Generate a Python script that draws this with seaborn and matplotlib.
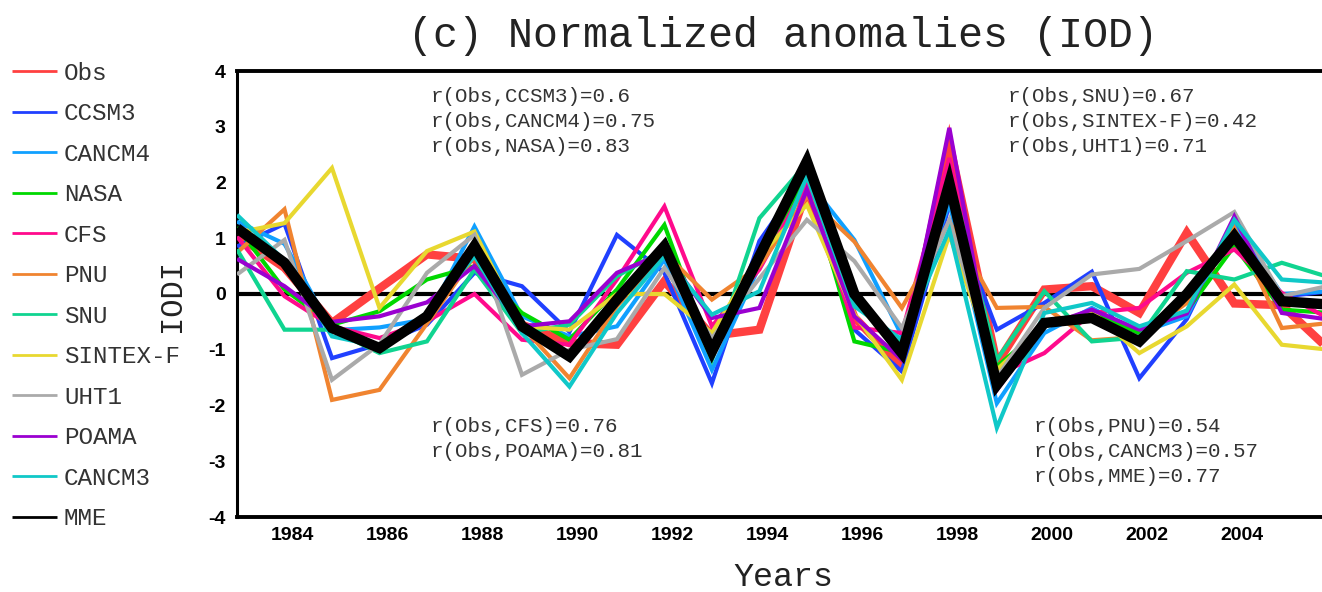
import numpy as np
import pandas as pd
import matplotlib
matplotlib.use("Agg")
import matplotlib.pyplot as plt
import seaborn as sns
from matplotlib import font_manager

# ---------------- data ----------------
years = list(range(1982, 2006))

obs     = [1.05, 0.47, -0.52, 0.10, 0.71, 0.63, -0.55, -0.88, -0.91, 0.23, -0.75, -0.64, 1.87, -0.42, -1.30, 2.70, -1.25, 0.08, 0.14, -0.34, 1.10, -0.17, -0.20, -1.00]
ccsm3   = [0.85, 1.26, -1.15, -0.90, -0.55, 0.38, 0.14, -0.68, 1.06, 0.38, -1.60, 0.95, 2.17, -0.64, -1.39, 1.60, -0.64, -0.16, 0.40, -1.51, -0.45, 1.30, -0.05, 0.05]
cancm4  = [1.30, 0.90, -0.65, -0.60, -0.45, 1.21, -0.40, -0.76, -0.58, 0.62, -1.36, 0.50, 2.05, 0.97, -0.75, 1.63, -1.96, -0.70, -0.25, -0.70, -0.40, 1.25, 0.00, 0.05]
nasa    = [1.20, 0.08, -0.55, -0.31, 0.26, 0.50, -0.34, -0.82, 0.08, 1.24, -1.10, 0.60, 2.10, -0.85, -1.05, 2.17, -1.30, -0.58, -0.35, -0.70, -0.30, 0.86, -0.28, -0.34]
cfs     = [1.03, -0.04, -0.58, -0.79, -0.49, 0.00, -0.82, -0.91, 0.26, 1.57, -0.58, 0.44, 1.99, -0.60, -0.70, 2.44, -1.45, -1.06, -0.34, -0.25, 0.38, 0.80, 0.02, -0.45]
pnu     = [0.74, 1.52, -1.90, -1.72, -0.53, 0.68, -0.58, -1.51, -0.22, 0.74, -0.10, 0.50, 1.75, 0.94, -0.25, 1.30, -0.25, -0.23, -0.83, -0.77, -0.16, 1.18, -0.61, -0.52]
snu     = [0.80, -0.64, -0.64, -1.06, -0.85, 0.44, -0.70, -0.55, 0.32, 0.80, -1.18, 1.36, 2.35, -0.16, -0.90, 2.17, -1.18, 0.05, -0.85, -0.78, 0.41, 0.26, 0.56, 0.30]
sintex  = [1.10, 1.27, 2.26, -0.25, 0.77, 1.12, -0.58, -0.64, 0.00, 0.00, -0.70, 0.68, 1.60, -0.36, -1.54, 1.06, -1.36, -0.55, -0.31, -1.06, -0.58, 0.17, -0.91, -1.00]
uht1    = [0.35, 0.97, -1.54, -0.90, 0.38, 1.06, -1.45, -1.00, -0.81, 0.47, -0.79, 0.28, 1.33, 0.59, -0.61, 1.33, -1.50, -0.25, 0.35, 0.45, 0.95, 1.47, -0.04, 0.15]
poama   = [0.63, 0.14, -0.50, -0.40, -0.15, 0.50, -0.58, -0.49, 0.38, 0.74, -0.43, -0.25, 1.87, -0.40, -1.18, 2.98, -1.72, -0.58, -0.28, -0.64, -0.35, 1.39, -0.34, -0.46]
cancm3  = [1.42, 0.60, -0.76, -0.94, -0.34, 0.68, -0.70, -1.66, -0.34, 0.68, -0.37, 0.05, 2.11, -0.22, -0.82, 1.15, -2.40, -0.34, -0.16, -0.58, -0.30, 1.33, 0.26, 0.20]
mme     = [1.18, 0.56, -0.61, -0.97, -0.40, 0.86, -0.58, -1.12, -0.10, 0.86, -1.03, 0.68, 2.38, 0.00, -1.06, 1.99, -1.63, -0.52, -0.43, -0.85, 0.00, 1.04, -0.13, -0.19]

models = ["Obs", "CCSM3", "CANCM4", "NASA", "CFS", "PNU", "SNU", "SINTEX-F", "UHT1", "POAMA", "CANCM3", "MME"]
series = [obs, ccsm3, cancm4, nasa, cfs, pnu, snu, sintex, uht1, poama, cancm3, mme]
colors = ["#ff4040", "#2040ff", "#10a0ff", "#00d800", "#ff0a8c", "#f08430", "#10d490",
          "#e8d830", "#aaaaaa", "#9a00d0", "#10c8c8", "#000000"]

corr_blocks = [
    ["r(Obs,CCSM3)=0.6", "r(Obs,CANCM4)=0.75", "r(Obs,NASA)=0.83"],
    ["r(Obs,CFS)=0.76", "r(Obs,POAMA)=0.81"],
    ["r(Obs,SNU)=0.67", "r(Obs,SINTEX-F)=0.42", "r(Obs,UHT1)=0.71"],
    ["r(Obs,PNU)=0.54", "r(Obs,CANCM3)=0.57", "r(Obs,MME)=0.77"],
]

xtick_years = list(range(1984, 2005, 2))
yticks = list(range(-4, 5))

# ---------------- style ----------------
sns.set_theme(style="white")
installed = {f.name for f in font_manager.fontManager.ttflist}
mono = "Liberation Mono" if "Liberation Mono" in installed else "DejaVu Sans Mono"
tickfont = "Liberation Sans Narrow" if "Liberation Sans Narrow" in installed else "Liberation Sans"
plt.rcParams["font.family"] = [mono, "DejaVu Sans"]

W, H = 1322, 592
fig = plt.figure(figsize=(W / 100, H / 100), dpi=100)
L, R, T, B = 237, 1322, 71, 517
ax = fig.add_axes([L / W, 1 - B / H, (R - L) / W, (B - T) / H])

# long-form table; point placed in November of each year
month_offset = 10 / 12
df = pd.DataFrame({
    "x": np.tile(np.array(years) + month_offset, len(models)),
    "value": np.concatenate([np.array(s, dtype=float) for s in series]),
    "model": np.repeat(models, len(years)),
})

ax.axhline(0, color="black", lw=3.0, zorder=1)

widths = {"Obs": 6.0, "MME": 7.5}
for i, (m, c) in enumerate(zip(models, colors)):
    sub = df[df["model"] == m]
    sns.lineplot(data=sub, x="x", y="value", color=c, lw=widths.get(m, 3.0),
                 label=m, ax=ax, zorder=2 + i, solid_joinstyle="miter",
                 solid_capstyle="butt")

ax.set_xlim(1982 + month_offset, 2005.68)
ax.set_ylim(-4, 4)
ax.set_xticks(xtick_years)
ax.set_xticklabels([str(y) for y in xtick_years])
ax.set_yticks(yticks)
ax.set_yticklabels([str(v).replace("\u2212", "-") for v in yticks])
for lab in ax.get_xticklabels() + ax.get_yticklabels():
    lab.set_fontfamily(tickfont)
    lab.set_fontweight("bold")
    lab.set_fontsize(14)
    lab.set_color("black")
ax.tick_params(axis="both", direction="out", length=5, width=2, color="black", pad=3)
ax.tick_params(axis="x", length=4)

for side in ["top", "bottom", "left"]:
    ax.spines[side].set_linewidth(2.8)
    ax.spines[side].set_color("black")
ax.spines["left"].set_linewidth(2.2)
ax.spines["right"].set_visible(False)

ax.set_xlabel("Years", fontsize=24, family=mono, va="center", color="#222222")
ax.set_ylabel("IODI", fontsize=22, family=mono, va="center", color="#222222")
ax.xaxis.set_label_coords((783 - L) / (R - L), (B - 578) / (B - T))
ax.yaxis.set_label_coords((172 - L) / (R - L), (B - 296) / (B - T))

fig.text(783 / W, 1 - 36 / H, "(c) Normalized anomalies (IOD)", fontsize=30,
         family=mono, ha="center", va="center", color="#222222")

# correlation annotations
block_pos = [(431, 97), (431, 427), (1008, 97), (1034, 427)]
for (px, py), lines in zip(block_pos, corr_blocks):
    for k, t in enumerate(lines):
        fig.text(px / W, 1 - (py + 24.5 * k) / H, t, fontsize=15, family=mono,
                 ha="left", va="center", color="#333333")

# legend at the far left
leg = ax.legend(loc="upper left", bbox_to_anchor=(2 / W, 1 - 52 / H),
                bbox_transform=fig.transFigure, frameon=False,
                prop={"family": mono, "size": 17.5}, handlelength=1.85,
                handletextpad=0.3, labelspacing=0.72, borderaxespad=0)
for ln in leg.get_lines():
    ln.set_linewidth(2.0)
for t in leg.get_texts():
    t.set_color("#333333")

fig.savefig("out.png", dpi=100)
